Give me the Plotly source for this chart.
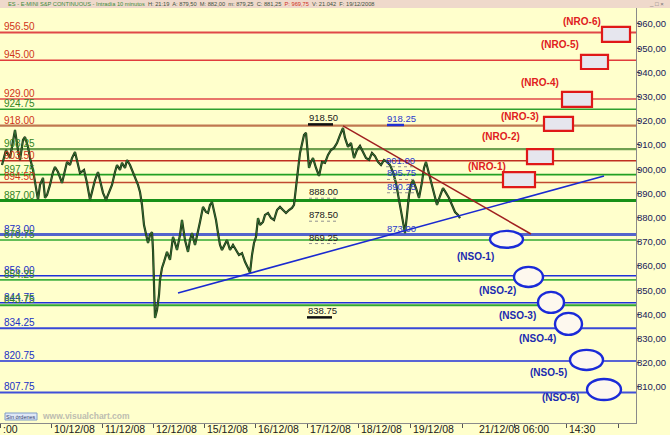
import plotly.graph_objects as go

# ---------------- DATA ----------------
# time index (1 day column ~= 51.5 units) and price path (10-min ES chart, traced)
time_idx = [2,6,10,13,15,18,20,23,25,28,30,33,36,38,40,43,45,47,50,53,
            55,58,62,65,67,70,72,75,78,80,84,87,90,93,95,98,100,103,106,108,
            112,115,117,120,122,125,127,130,133,135,138,140,142,144,146,148,150,152,153,154,
            155,157,159,160,162,164,167,170,173,175,177,180,182,185,188,190,192,195,198,200,
            203,206,208,210,212,214,216,218,220,222,225,227,230,233,236,239,242,245,248,250,
            252,254,256,258,260,263,265,268,271,274,277,280,283,286,289,292,294,296,298,300,
            302,304,306,307,309,311,313,316,319,322,325,328,331,334,337,340,343,345,348,351,
            354,357,360,363,366,369,372,375,378,381,384,387,390,393,396,399,401,403,405,407,
            409,411,413,416,419,422,424,426,428,431,434,437,440,443,446,449,452,455,458,460]
price = [901.7,907.9,904.6,912.1,916.2,907.9,903.8,912.1,913.3,909.2,
         904.6,899.7,891.4,887.3,893.5,896.4,888.1,889.3,893.5,898.8,
         900.9,898.8,894.3,899.7,903.0,901.7,904.6,907.1,901.7,898.4,
         899.7,894.3,887.3,892.2,895.5,898.8,895.5,890.2,887.3,889.3,
         893.5,898.8,901.7,899.7,902.6,900.5,903.8,901.7,898.8,896.4,
         893.5,890.6,885.2,876.9,872.8,869.5,872.8,874.0,866.6,846.0,
         838.5,841.8,848.0,854.2,859.2,861.7,865.8,862.5,872.0,869.5,
         866.6,872.8,879.0,870.7,865.8,870.7,873.6,868.7,874.0,878.2,
         884.4,882.3,881.9,885.2,886.4,883.1,879.0,873.6,868.7,866.6,
         869.5,870.7,866.6,868.7,866.6,864.5,865.3,861.7,859.2,857.1,
         864.5,869.5,872.0,879.8,876.9,878.2,881.1,881.9,879.8,879.0,
         883.1,884.4,883.1,881.9,883.1,884.0,885.2,893.5,899.7,906.7,
         911.2,914.1,915.0,908.8,900.5,903.0,904.6,900.5,897.2,903.0,
         902.6,905.9,907.9,908.8,910.8,914.1,917.0,912.9,909.2,910.8,
         904.6,907.9,909.6,907.1,904.6,903.8,906.7,905.4,903.0,901.7,
         903.8,903.0,901.7,898.8,894.3,887.3,882.3,876.9,873.6,881.1,
         889.3,893.5,895.5,892.2,888.1,894.7,900.5,903.0,899.7,895.5,
         889.3,885.2,888.9,892.2,890.2,888.1,885.2,882.3,881.1,879.8]

# horizontal levels
level_values = [956.50, 945.00, 929.00, 924.75, 918.00, 908.25, 903.50, 897.75, 894.50,
                887.00, 873.00, 870.75, 856.00, 854.25, 844.75, 843.75, 834.25, 820.75, 807.75]
level_kind = ["R", "R", "R", "G", "R", "G", "R", "G", "R",
              "G", "S", "G", "S", "G", "S", "G", "S", "S", "S"]

# x axis ticks / labels
tick_pos = [0, 51, 102, 153, 204, 255, 307, 358, 410, 462, 514, 566, 618]
date_label_pos = [0, 51, 102, 153, 204, 255, 307, 358, 410, 476, 566]
date_labels = [":00", "10/12/08", "11/12/08", "12/12/08", "15/12/08", "16/12/08",
               "17/12/08", "18/12/08", "19/12/08", "21/12/08 06:00", "14:30"]

# y axis ticks
y_ticks = [810, 820, 830, 840, 850, 860, 870, 880, 890, 900, 910, 920, 930, 940, 950, 960]
y_ticktext = ["810,00", "820,00", "830,00", "840,00", "850,00", "860,00", "870,00", "880,00",
              "890,00", "900,00", "910,00", "920,00", "930,00", "940,00", "950,00", "960,00"]

# day markers (high/low etc.)
mark_text = ["918.50", "918.25", "888.00", "878.50", "869.25", "838.75",
             "901.00", "895.75", "890.25", "873.00"]
mark_val = [918.50, 918.25, 888.00, 878.50, 869.25, 838.75, 901.00, 895.75, 890.25, 873.00]
mark_t = [323, 401, 323, 323, 323, 322, 400, 401, 401, 401]

# trend lines
support_t = [178, 604]
support_v = [848.8, 897.2]
resist_t = [343, 531]
resist_v = [917.9, 873.2]

# NRO boxes
nro_names = ["(NRO-1)", "(NRO-2)", "(NRO-3)", "(NRO-4)", "(NRO-5)", "(NRO-6)"]
nro_t0 = [503, 527, 544, 562, 581, 602]
nro_t1 = [535, 553, 573, 592, 608, 630]
nro_lo = [892.6, 902.1, 915.8, 925.7, 941.4, 952.6]
nro_hi = [898.8, 908.3, 921.6, 931.9, 947.2, 958.8]
nro_label_t = [487, 501, 520, 540, 560, 582]
nro_label_v = [901.3, 913.3, 921.6, 936.0, 951.7, 961.2]

# NSO ellipses
nso_names = ["(NSO-1)", "(NSO-2)", "(NSO-3)", "(NSO-4)", "(NSO-5)", "(NSO-6)"]
nso_t0 = [490, 514, 538, 555, 570, 587]
nso_t1 = [523, 543, 564, 582, 603, 621]
nso_lo = [867.5, 851.3, 840.6, 831.5, 817.0, 804.6]
nso_hi = [874.5, 859.6, 849.3, 840.6, 825.3, 813.3]
nso_label_t = [475, 497, 517, 537, 548, 560]
nso_label_v = [864.1, 849.7, 839.7, 830.2, 815.8, 805.5]

header = ("ES - E-MINI S&P CONTINUOUS - Intradía 10 minutos  "
          "<span style='color:#405040'>H: 21:19  A: 879,50  M: 882,00  m: 879,25  C: 881,25</span>  "
          "<span style='color:#d03020'>P: 969,75</span>  "
          "<span style='color:#405040'>V: 21.042  F: 19/12/2008</span>")

# ---------------- STYLE ----------------
FONT = "Liberation Sans, Arial, sans-serif"
BG = "#ffffcc"
W, H = 670, 435
ML, MR, MT, MB = 0, 34, 8, 12
PW, PH = W - ML - MR, H - MT - MB

line_style = {
    956.50: ("#e04848", 2), 945.00: ("#e03c3c", 1.5), 929.00: ("#e04848", 1.6),
    924.75: ("#2ea02e", 1.6), 918.00: ("#c07850", 2.2), 908.25: ("#6fa050", 2.2),
    903.50: ("#c03020", 1.6), 897.75: ("#22a022", 1.6), 894.50: ("#c04a30", 1.6),
    887.00: ("#189018", 3), 873.00: ("#5464cc", 3), 870.75: ("#30a830", 1.6),
    856.00: ("#2030d8", 1.5), 854.25: ("#40b040", 1.6), 844.75: ("#2030d8", 1.5),
    843.75: ("#30a830", 2), 834.25: ("#3848d8", 2), 820.75: ("#2030d8", 1.6),
    807.75: ("#4050d8", 2),
}
label_color = {"R": "#d03418", "G": "#338424", "S": "#2030c4"}

fig = go.Figure()
shapes = []
annotations = []

# header bar
shapes.append(dict(type="rect", xref="paper", yref="paper", x0=0, x1=W / PW,
                   y0=1, y1=1 + MT / PH, fillcolor="#efd9cb", line=dict(width=0), layer="above"))
annotations.append(dict(xref="paper", yref="paper", x=6 / PW, y=1 + 4 / PH, xanchor="left",
                        yanchor="middle", text=header, showarrow=False,
                        font=dict(size=5.7, color="#3a8a3a", family=FONT)))
annotations.append(dict(xref="paper", yref="paper", x=(W - 4) / PW, y=1 + 4 / PH, xanchor="right",
                        yanchor="middle", text="_ □ ×", showarrow=False,
                        font=dict(size=6, color="#707070", family=FONT)))

# levels
for v, k in zip(level_values, level_kind):
    c, w = line_style[v]
    shapes.append(dict(type="line", xref="paper", yref="y", x0=0, x1=1, y0=v, y1=v,
                       line=dict(color=c, width=w), layer="below"))
    annotations.append(dict(xref="paper", yref="y", x=2 / PW, y=v, yshift=5.5,
                            xanchor="left", yanchor="middle", text=f"{v:.2f}", showarrow=False,
                            font=dict(size=10, color=label_color[k], family=FONT)))

# price
fig.add_trace(go.Scatter(x=time_idx, y=price, mode="lines",
                         line=dict(color="#1c2c14", width=2.2), hoverinfo="skip"))
fig.add_trace(go.Scatter(x=time_idx, y=price, mode="lines",
                         line=dict(color="#3c8c3c", width=0.7), hoverinfo="skip"))

# trend lines
fig.add_trace(go.Scatter(x=support_t, y=support_v, mode="lines",
                         line=dict(color="#1a2ad0", width=1.6), hoverinfo="skip"))
fig.add_trace(go.Scatter(x=resist_t, y=resist_v, mode="lines",
                         line=dict(color="#a02020", width=1.5), hoverinfo="skip"))

# day markers
for txt, v, t in zip(mark_text, mark_val, mark_t):
    blue = t > 380
    col = "#2a3acc" if blue else "#202020"
    annotations.append(dict(xref="x", yref="y", x=t, y=v, yshift=6.5, xanchor="center",
                            yanchor="middle", text=txt, showarrow=False,
                            font=dict(size=9.5, color=col, family=FONT)))
    if txt in ("918.50", "838.75"):
        shapes.append(dict(type="line", xref="x", yref="y", x0=t - 15, x1=t + 10, y0=v, y1=v,
                           line=dict(color="#101010", width=2.5)))
    elif txt == "918.25":
        shapes.append(dict(type="line", xref="x", yref="y", x0=t - 14, x1=t + 3, y0=v, y1=v,
                           line=dict(color="#2030d0", width=2.5)))
    elif txt != "873.00":
        shapes.append(dict(type="line", xref="x", yref="y", x0=t - 14, x1=t + 14, y0=v, y1=v,
                           line=dict(color="#909090", width=1, dash="dot")))

# NRO boxes
for name, a, b, lo, hi, lt, lv in zip(nro_names, nro_t0, nro_t1, nro_lo, nro_hi,
                                      nro_label_t, nro_label_v):
    shapes.append(dict(type="rect", xref="x", yref="y", x0=a, x1=b, y0=lo, y1=hi,
                       fillcolor="#e6e6ee", line=dict(color="#e01818", width=2.2)))
    annotations.append(dict(xref="x", yref="y", x=lt, y=lv, xanchor="center", yanchor="middle",
                            text=f"<b>{name}</b>", showarrow=False,
                            font=dict(size=10, color="#e02020", family=FONT)))

# NSO ellipses
for name, a, b, lo, hi, lt, lv in zip(nso_names, nso_t0, nso_t1, nso_lo, nso_hi,
                                      nso_label_t, nso_label_v):
    shapes.append(dict(type="circle", xref="x", yref="y", x0=a, x1=b, y0=lo, y1=hi,
                       fillcolor="#fdf8ee", line=dict(color="#1a2ad8", width=2.4)))
    annotations.append(dict(xref="x", yref="y", x=lt, y=lv, xanchor="center", yanchor="middle",
                            text=f"<b>{name}</b>", showarrow=False,
                            font=dict(size=10, color="#1a2ab0", family=FONT)))

# x date labels
for p, lab in zip(date_label_pos, date_labels):
    annotations.append(dict(xref="x", yref="paper", x=p + 1, y=-6 / PH, xanchor="left",
                            yanchor="middle", text=lab, showarrow=False,
                            font=dict(size=10.5, color="#202020", family=FONT)))

# y tick labels (placed close to the axis like the original)
for v, lab in zip(y_ticks, y_ticktext):
    annotations.append(dict(xref="paper", yref="y", x=(PW - 1) / PW, y=v, xanchor="left",
                            yanchor="middle", text=lab, showarrow=False,
                            font=dict(size=9.5, color="#1a1a5a", family=FONT)))

# "Sin órdenes" box and watermark
shapes.append(dict(type="rect", xref="paper", yref="paper", x0=5 / PW, x1=37 / PW,
                   y0=3 / PH, y1=10 / PH, fillcolor="#dfe8f6",
                   line=dict(color="#7f9cc8", width=1), layer="above"))
annotations.append(dict(xref="paper", yref="paper", x=21 / PW, y=6.5 / PH, xanchor="center",
                        yanchor="middle", text="Sin órdenes", showarrow=False,
                        font=dict(size=5.5, color="#304070", family=FONT)))
annotations.append(dict(xref="paper", yref="paper", x=40 / PW, y=7 / PH, xanchor="left",
                        yanchor="middle", text="<b>www.visualchart.com</b>", showarrow=False,
                        font=dict(size=8.5, color="#bdbdb0", family=FONT)))

fig.update_layout(
    width=W, height=H,
    margin=dict(l=ML, r=MR, t=MT, b=MB),
    paper_bgcolor=BG, plot_bgcolor=BG,
    showlegend=False,
    shapes=shapes, annotations=annotations,
    xaxis=dict(range=[0, PW], showgrid=False, zeroline=False, tickvals=tick_pos,
               ticks="outside", ticklen=4, tickcolor="#555555", showticklabels=False,
               showline=True, linecolor="#8a8a8a", linewidth=1, fixedrange=True),
    yaxis=dict(range=[795.1, 966.6], side="right", showgrid=False, zeroline=False,
               tickvals=y_ticks, ticks="outside", ticklen=3, showticklabels=False,
               tickcolor="#555555",
               showline=True, linecolor="#8a8a8a", linewidth=1, fixedrange=True),
)

fig.write_html("out.html", config={"displayModeBar": False},
               post_script="document.body.style.margin='0';document.body.style.overflow='hidden';")
